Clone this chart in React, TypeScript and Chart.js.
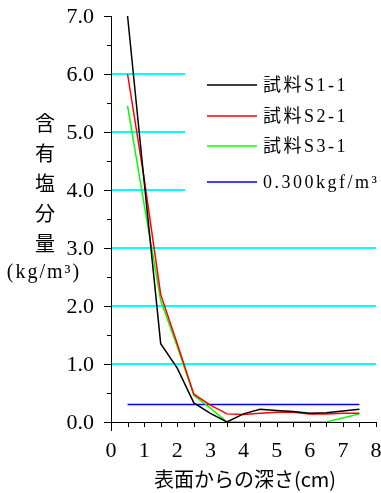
import React, { useEffect, useRef } from 'react';
import { Chart, registerables } from 'chart.js';

Chart.register(...registerables);

// ---- data ----
const depths = [0.5, 1.0, 1.5, 2.0, 2.5, 3.0, 3.5, 4.0, 4.5, 5.0, 5.5, 6.0, 6.5, 7.0, 7.5];
const sampleS1 = [7.0, 4.15, 1.35, 0.93, 0.33, 0.15, 0.0, 0.14, 0.22, 0.2, 0.18, 0.15, 0.16, 0.19, 0.22];
const sampleS2 = [6.0, 4.2, 2.2, 1.35, 0.48, 0.29, 0.14, 0.13, 0.15, 0.17, 0.17, 0.14, 0.14, 0.15, 0.15];
const sampleS3 = [5.45, 3.75, 2.1, 1.3, 0.46, 0.24, 0.0, 0.0, 0.0, 0.0, 0.0, 0.0, 0.0, 0.07, 0.14];
const limitDepths = [0.5, 7.5];
const limitValues = [0.3, 0.3];

const seriesNames = ['試料S1-1', '試料S2-1', '試料S3-1', '0.300kgf/m³'];
const seriesColors = ['#000000', '#ff0000', '#00ff00', '#0000ff'];

const yTickValues = [0, 1, 2, 3, 4, 5, 6, 7];
const yTickLabels = ['0.0', '1.0', '2.0', '3.0', '4.0', '5.0', '6.0', '7.0'];
const xTickValues = [0, 1, 2, 3, 4, 5, 6, 7, 8];
const xTickLabels = ['0', '1', '2', '3', '4', '5', '6', '7', '8'];
const yTitleChars = ['含', '有', '塩', '分', '量'];
const yTitleUnit = '(kg/m³)';
const xTitle = '表面からの深さ(cm)';

const FONT = "'Liberation Serif', 'Noto Sans CJK JP', serif";
const CJK_FONT = "'Noto Sans CJK JP', 'Liberation Serif', sans-serif";

const toPoints = (xs: number[], ys: number[]) => xs.map((x, i) => ({ x, y: ys[i] }));

const decorPlugin = {
  id: 'decor',
  beforeDatasetsDraw(chart: any) {
    const ctx = chart.ctx;
    ctx.save();
    ctx.fillStyle = '#ffffff';
    ctx.fillRect(185, 52, chart.width - 185, 152);
    ctx.restore();
  },
  afterDraw(chart: any) {
    const ctx = chart.ctx as CanvasRenderingContext2D;
    const xs = chart.scales.x;
    const ys = chart.scales.y;
    const left = chart.chartArea.left;
    const bottom = chart.chartArea.bottom;
    ctx.save();
    ctx.strokeStyle = '#000';
    ctx.lineWidth = 1;
    // y ticks (major / minor)
    for (let v = 0; v <= 7.001; v += 0.5) {
      const py = Math.round(ys.getPixelForValue(v)) + 0.5;
      const len = Math.abs(v - Math.round(v)) < 1e-6 ? 7 : 4;
      ctx.beginPath();
      ctx.moveTo(left, py);
      ctx.lineTo(left - len, py);
      ctx.stroke();
    }
    // x ticks
    for (let v = 0; v <= 8.001; v += 0.5) {
      const px = Math.round(xs.getPixelForValue(v)) + 0.5;
      ctx.beginPath();
      ctx.moveTo(px, bottom);
      ctx.lineTo(px, bottom + 5);
      ctx.stroke();
    }
    // y axis extension below
    ctx.beginPath();
    ctx.moveTo(Math.round(left) + 0.5, bottom);
    ctx.lineTo(Math.round(left) + 0.5, bottom + 9);
    ctx.stroke();

    // tick labels
    ctx.fillStyle = '#000';
    ctx.font = `22px ${FONT}`;
    ctx.textAlign = 'right';
    ctx.textBaseline = 'middle';
    yTickValues.forEach((v, i) => {
      ctx.fillText(yTickLabels[i], left - 17, ys.getPixelForValue(v) + 1);
    });
    ctx.textAlign = 'center';
    xTickValues.forEach((v, i) => {
      ctx.fillText(xTickLabels[i], xs.getPixelForValue(v), bottom + 29);
    });

    // legend
    const rowY = [85, 116, 146, 182];
    seriesNames.forEach((name, i) => {
      ctx.strokeStyle = seriesColors[i];
      ctx.lineWidth = 1.5;
      ctx.beginPath();
      ctx.moveTo(207, rowY[i]);
      ctx.lineTo(257, rowY[i]);
      ctx.stroke();
      ctx.fillStyle = '#000';
      ctx.font = `18px ${FONT}`;
      (ctx as any).letterSpacing = '2.5px';
      ctx.textAlign = 'left';
      ctx.textBaseline = 'middle';
      ctx.fillText(name, 263, rowY[i] + 1);
    });

    // y title (vertical stacked)
    (ctx as any).letterSpacing = '0px';
    ctx.fillStyle = '#000';
    ctx.font = `20px ${CJK_FONT}`;
    ctx.textAlign = 'center';
    ctx.textBaseline = 'middle';
    yTitleChars.forEach((ch, i) => {
      ctx.fillText(ch, 45, 123 + i * 30);
    });
    ctx.font = `20px ${FONT}`;
    (ctx as any).letterSpacing = '2px';
    ctx.fillText(yTitleUnit, 44, 273);

    // x title
    (ctx as any).letterSpacing = '0px';
    ctx.font = `20px ${CJK_FONT}`;
    ctx.textAlign = 'center';
    ctx.fillText(xTitle, 245, 479);
    ctx.restore();
  },
};

export default function App() {
  const canvasRef = useRef<HTMLCanvasElement | null>(null);

  useEffect(() => {
    document.body.style.margin = '0';
    const canvas = canvasRef.current;
    if (!canvas) return;
    const lineDs = (label: string, data: any[], color: string) => ({
      label,
      data,
      borderColor: color,
      backgroundColor: color,
      borderWidth: 1.5,
      pointRadius: 0,
      tension: 0,
      fill: false,
    });
    const chart = new Chart(canvas, {
      type: 'line',
      data: {
        datasets: [
          lineDs(seriesNames[0], toPoints(depths, sampleS1), seriesColors[0]),
          lineDs(seriesNames[1], toPoints(depths, sampleS2), seriesColors[1]),
          lineDs(seriesNames[2], toPoints(depths, sampleS3), seriesColors[2]),
          lineDs(seriesNames[3], toPoints(limitDepths, limitValues), seriesColors[3]),
        ],
      },
      options: {
        responsive: false,
        animation: false,
        devicePixelRatio: 1,
        layout: { padding: { left: 0, top: 16, right: 5, bottom: 0 } },
        plugins: { legend: { display: false }, tooltip: { enabled: false } },
        scales: {
          x: {
            type: 'linear',
            min: 0,
            max: 8,
            ticks: { stepSize: 1, display: false },
            grid: { display: false, drawTicks: false },
            border: { display: true, color: '#000', width: 1 },
            afterFit: (scale: any) => {
              scale.height = 71;
            },
          },
          y: {
            type: 'linear',
            min: 0,
            max: 7,
            ticks: { stepSize: 1, display: false },
            grid: {
              drawTicks: false,
              lineWidth: 2,
              color: (c: any) =>
                c.tick && c.tick.value >= 1 && c.tick.value <= 6 ? '#00ffff' : 'rgba(0,0,0,0)',
            },
            border: { display: true, color: '#000', width: 1 },
            afterFit: (scale: any) => {
              scale.width = 111;
            },
          },
        },
      } as any,
      plugins: [decorPlugin],
    });
    return () => chart.destroy();
  }, []);

  return (
    <div style={{ width: 381, height: 493, background: '#fff' }}>
      <canvas ref={canvasRef} width={381} height={493} style={{ display: 'block' }} />
    </div>
  );
}
